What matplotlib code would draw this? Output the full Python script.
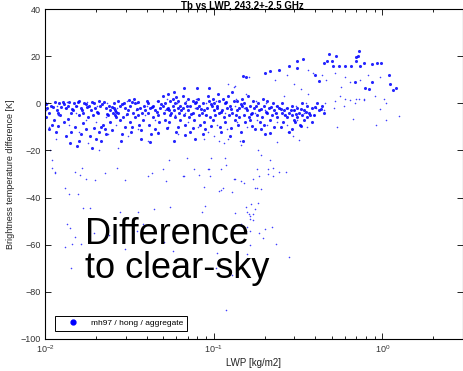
import matplotlib
matplotlib.use("Agg")
import matplotlib.pyplot as plt
from matplotlib.lines import Line2D

plt.rcParams.update({
    "font.family": ["Liberation Sans", "DejaVu Sans"],
    "mathtext.default": "regular",
    "axes.linewidth": 0.8,
})

# band points drawn with the larger marker: lwp [kg/m2], dTb [K]
big_lwp = [
    0.0100, 0.0103, 0.0101, 0.0108, 0.0106, 0.0110,
    0.0114, 0.0117, 0.0113, 0.0116, 0.0121, 0.0125, 0.0123,
    0.0129, 0.0133, 0.0130, 0.0134, 0.0139, 0.0142, 0.0137, 0.0141,
    0.0148, 0.0152, 0.0146, 0.0151, 0.0154,
    0.0159, 0.0163, 0.0158, 0.0164, 0.0160,
    0.0170, 0.0174, 0.0168, 0.0175,
    0.0182, 0.0187, 0.0180, 0.0186, 0.0189,
    0.0195, 0.0199, 0.0193, 0.0200,
    0.0208, 0.0213, 0.0206, 0.0215, 0.0210,
    0.0223, 0.0229, 0.0221, 0.0227, 0.0231,
    0.0238, 0.0244, 0.0236, 0.0242,
    0.0255, 0.0258, 0.0261, 0.0253, 0.0259, 0.0262,
    0.0272, 0.0279, 0.0270, 0.0277, 0.0281,
    0.0292, 0.0299, 0.0290, 0.0297,
    0.0313, 0.0320, 0.0311, 0.0318, 0.0323,
    0.0335, 0.0342, 0.0333, 0.0340,
    0.0358, 0.0366, 0.0355, 0.0363, 0.0369,
    0.0384, 0.0391, 0.0381,
    0.0410, 0.0419, 0.0407, 0.0416, 0.0422,
    0.0439, 0.0448, 0.0436, 0.0446,
    0.0470, 0.0480, 0.0466, 0.0477,
    0.0502, 0.0512, 0.0498, 0.0510, 0.0515,
    0.0538, 0.0548, 0.0534, 0.0545, 0.0551, 0.0540,
    0.0576, 0.0587, 0.0571, 0.0583, 0.0590, 0.0579,
    0.0615, 0.0628, 0.0611, 0.0624, 0.0631, 0.0618,
    0.0659, 0.0672, 0.0654, 0.0668, 0.0676,
    0.0705, 0.0719, 0.0700, 0.0715, 0.0724,
    0.0755, 0.0770, 0.0749, 0.0765, 0.0774,
    0.0807, 0.0823, 0.0801, 0.0818, 0.0829,
    0.0864, 0.0881, 0.0857, 0.0875, 0.0887,
    0.0924, 0.0942, 0.0917, 0.0948,
    0.0990, 0.101, 0.0982, 0.100, 0.102, 0.0995,
    0.106, 0.108, 0.105, 0.107, 0.109,
    0.113, 0.116, 0.112, 0.115, 0.117,
    0.121, 0.124, 0.120, 0.123, 0.125,
    0.129, 0.132, 0.128, 0.133,
    0.138, 0.141, 0.137, 0.142, 0.139,
    0.148, 0.152, 0.147, 0.151, 0.153, 0.149,
    0.159, 0.163, 0.158, 0.162, 0.164,
    0.170, 0.174, 0.168, 0.175,
    0.182, 0.186, 0.180, 0.187,
    0.195, 0.199, 0.193, 0.198, 0.201,
    0.208, 0.213, 0.206, 0.215,
    0.223, 0.229, 0.221, 0.227,
    0.238, 0.244, 0.236,
    0.255, 0.261, 0.253, 0.259,
    0.272, 0.279, 0.270, 0.281,
    0.292, 0.299, 0.290, 0.297, 0.302,
    0.313, 0.320, 0.311, 0.323,
    0.335, 0.342, 0.333, 0.345,
    0.358, 0.366, 0.355,
    0.384, 0.391, 0.381,
    0.410, 0.419, 0.439, 0.448,
    # in between
    0.0102, 0.0112, 0.0119, 0.0127, 0.0136, 0.0144, 0.0156, 0.0166,
    0.0178, 0.0191, 0.0203, 0.0218, 0.0233, 0.0249, 0.0265, 0.0285,
    0.0305, 0.0328, 0.0350, 0.0374, 0.0400, 0.0428, 0.0458, 0.0490,
    0.0525, 0.0560, 0.0600, 0.0640, 0.0690, 0.0738, 0.0790, 0.0845,
    0.0903, 0.0965, 0.104, 0.111, 0.118, 0.127, 0.135, 0.145,
    0.156, 0.166, 0.178, 0.190, 0.204, 0.218, 0.233, 0.249,
    0.266, 0.286, 0.306, 0.328, 0.350, 0.374, 0.400, 0.430,
    0.0105, 0.0120, 0.0143, 0.0169, 0.0195, 0.0216, 0.0248, 0.0287,
    0.0330, 0.0372, 0.0420, 0.0470, 0.0530, 0.0595, 0.0680, 0.0750,
    0.0860, 0.0960, 0.110, 0.126, 0.145, 0.168, 0.190, 0.215,
    0.250, 0.290, 0.330,
]
big_dtb = [
    0, -2, -6, -1, -4, -9,
    0.5, -3, -7, -12, 0, -1.5, -5,
    -0.5, -2, -8, -14, 0.5, -4, -6.5, -17,
    0, -1, -3, -10, -18,
    1, -2, -5, -13, -16,
    0, -0.5, -4, -11,
    -1, -3, -6, -14, -19,
    0, -2, -5, -15,
    1, -1, -4, -10, -12,
    0.5, -2, -9, -11, -13,
    -1, -3, -5, -8,
    0, -2, -3, -4, -5, -6,
    1, -1, -4, -7, -16,
    0, -2, -6, -10,
    1.5, -1, -3, -8, -12,
    2, 0, -4, -6,
    0.5, -2, -5, -9, -15,
    -1, -3, -7,
    0, -2, -4, -9, -13,
    -1, -3, -6, -11,
    1, -2, -5, -8,
    3, 0, -1, -4, -7,
    4, 1, -2, -3, -5, -8,
    2, 0, -1, -3, -6, -16,
    1, -1, -2, -4, -7, -10,
    3, 0, -2, -5, -9,
    2, -1, -3, -6, -12,
    1, 0, -4, -7, -15,
    2, -1, -2, -5, -9,
    0, -3, -4, -8, -11,
    3, 1, -2, -6,
    2, 0, -1, -3, -5, -7,
    4, 1, -2, -4, -10,
    2, 0, -3, -6, -8,
    3, -1, -2, -5, -14,
    5, 1, -4, -7,
    1, -2, -3, -6, -9,
    2, 0, -1, -5, -8, -16,
    3, -1, -3, -6, -7,
    1, -2, -4, -11,
    0, -3, -5, -8,
    2, -1, -6, -9, -13,
    1, -2, -4, -7,
    0, -3, -5, -10,
    -1, -2, -6,
    0, -3, -4, -8,
    -2, -4, -6, -12,
    -1, -3, -5, -7, -8,
    -2, -4, -6, -9,
    0, -3, -5, -7,
    -1, -4, -6,
    -2, -5, -8,
    0, -3, -1, -4,
    # in between
    -0.5, -1.5, -4, 0.5, -1, -2.5, 0.5, -3,
    -1.5, 0.5, -3.5, -0.5, -4.5, -1.5, -3.5, -0.5,
    -4.5, 0.5, -2.5, -4, 1, -1.5, -3.5, -0.5,
    -2.5, -4, 2.5, -3, -1, -4.5, 0.5, -2.5,
    -5, -0.5, -1, -3.5, 0.5, -2.5, -5, -0.5,
    -2, -4.5, -1, -2.5, -3.5, -1.5, -4, -2.5,
    -5, -3, -4.5, -2.5, -3.5, -5, -1.5, -2.5,
    -11, -9.5, -12, -8.5, -10.5, -16, -11.5, -13,
    -10, -11.5, -16.5, -12.5, -10.5, -12, -13.5, -10.5,
    -13, -9.5, -12, -10.5, -12, -9.5, -11, -12.5,
    -10, -11, -9.5,
]

# warm branch at high LWP (larger marker)
warm_lwp = [0.150, 0.155, 0.200, 0.216, 0.245, 0.280, 0.310, 0.310, 0.340,
            0.400, 0.420, 0.450, 0.470, 0.480, 0.500, 0.510, 0.530, 0.550,
            0.600, 0.650, 0.690, 0.700, 0.700, 0.720, 0.730, 0.740, 0.780,
            0.790, 0.830, 0.870, 0.870, 0.930, 0.980, 1.10, 1.11, 1.15, 1.20,
            0.0582, 0.0666, 0.0800, 0.0940]
warm_dtb = [11.5, 11, 12.8, 13.7, 14, 16, 15, 18, 19,
            12, 9.5, 17, 18, 21, 18, 16, 20, 16,
            16, 16, 9, 19.5, 18, 20, 22, 16, 17,
            6.5, 6, 16.6, 9, 17, 17, 12, 8, 5.5, 6.5,
            5, 6.5, 6.5, 6.5]

# points drawn with the small marker
small_lwp = [
    0.0104, 0.0101, 0.0106, 0.0118, 0.0120, 0.0116, 0.0135, 0.0132, 0.0138,
    0.0155, 0.0152, 0.0158, 0.0178, 0.0175, 0.0181, 0.0204, 0.0200, 0.0208,
    0.0233, 0.0229, 0.0237, 0.0267, 0.0262, 0.0272, 0.0306, 0.0300, 0.0312,
    0.0350, 0.0344, 0.0356, 0.0401, 0.0394, 0.0408, 0.0459, 0.0451, 0.0467,
    0.0526, 0.0517, 0.0535, 0.0602, 0.0592, 0.0612, 0.0689, 0.0677, 0.0701,
    0.0789, 0.0775, 0.0803, 0.0903, 0.0887, 0.0919, 0.103, 0.101, 0.105,
    0.118, 0.116, 0.120, 0.136, 0.134, 0.138, 0.155, 0.152, 0.158,
    0.178, 0.175, 0.181, 0.204, 0.200, 0.208, 0.234, 0.230, 0.238,
    0.267, 0.262, 0.272, 0.306, 0.300, 0.312, 0.350, 0.344, 0.356,
    0.401, 0.394, 0.459, 0.451, 0.526, 0.517, 0.602, 0.592, 0.700, 0.688,
    0.780,
    # tail below the band
    0.0107, 0.0110, 0.0115, 0.0110, 0.0115, 0.0150, 0.0161, 0.0165, 0.0176,
    0.0197, 0.0226, 0.0267, 0.0296, 0.0410, 0.0430, 0.0500, 0.0520, 0.0655,
    0.0816, 0.0930, 0.0950, 0.0873, 0.107, 0.119, 0.133, 0.146, 0.151,
    0.175, 0.180, 0.190, 0.180, 0.211, 0.211, 0.226, 0.186, 0.170, 0.110,
    0.113, 0.128, 0.0544, 0.0690, 0.0763, 0.0666, 0.0934, 0.110, 0.131,
    0.117, 0.0967, 0.0873, 0.100, 0.107, 0.115, 0.122, 0.143, 0.146,
    0.184, 0.191, 0.216, 0.224, 0.236, 0.276, 0.296, 0.318, 0.245, 0.268,
    # far tail
    0.0131, 0.0138, 0.0135, 0.0140, 0.0131, 0.0143, 0.0157, 0.0169, 0.0184,
    0.0150, 0.0145, 0.0164, 0.0194, 0.0280, 0.0355, 0.0440, 0.0552, 0.0241,
    0.0296, 0.0383, 0.0353, 0.0570, 0.0510, 0.0882, 0.0850, 0.104, 0.103,
    0.155, 0.167, 0.184, 0.175, 0.157, 0.161, 0.172, 0.163, 0.165, 0.170,
    0.133, 0.146, 0.157, 0.155, 0.165, 0.202, 0.186, 0.197, 0.222, 0.131,
    0.234, 0.163, 0.157, 0.280, 0.128, 0.119,
    # around the warm branch
    0.122, 0.131, 0.133, 0.161, 0.230, 0.270, 0.360, 0.390, 0.440, 0.460,
    0.520, 0.600, 0.640, 0.570, 0.740, 0.820, 0.970, 1.05, 0.970, 1.05,
    1.25, 0.920, 0.670, 0.540, 0.560, 0.730, 0.780, 0.640, 0.360, 0.330,
    0.300, 1.02, 0.900, 0.260,
]
small_dtb = [
    0, -3, -10, -1, -5, -15, 0.5, -2, -9,
    -1, -4, -12, 0.5, -7, -17, -1, -8, -20,
    0, -6, -13, -2, -9, -19, 1, -5, -14,
    0, -3, -11, -1, -5, -16, 1, -7, -12,
    2, -3, -10, 0, -5, -13, 1, -4, -8,
    2, -2, -10, 0, -5, -12, 1, -3, -9,
    0, -4, -11, 2, -1, -8, 4, -2, -10,
    1, -4, -7, 0, -3, -9, -1, -4, -8,
    -2, -5, -9, -1, -3, -7, 0, -4, -10,
    -2, -5, 0, -3, 1, -2, 2, -1, 2, 0,
    1.5,
    -20, -24, -29.5, -27.5, -29, -29, -30.5, -27.5, -32,
    -32.6, -29.6, -27.4, -32.6, -31, -29.6, -28, -33, -31,
    -30.4, -28, -31, -35.5, -37, -26, -32, -33, -34,
    -36, -36, -36.4, -28, -28, -30, -31, -31, -32, -36.8,
    -36, -37.7, -24, -23, -28, -31, -28, -28, -32,
    -23, -23, -15, -14, -16, -17, -15, -16, -17.7,
    -20, -22, -24, -27.5, -16.6, -12, -14, -15.6, -29, -29,
    -36, -38.5, -51, -53, -61, -70, -38.5, -44.5, -44.5,
    -56.7, -59.7, -59.7, -55, -46, -46, -45, -44, -56,
    -62, -51, -54, -62.7, -59, -43.6, -46, -63.5, -70,
    -44, -42.7, -42.3, -45, -46, -47, -47, -48, -49, -49.5,
    -46.5, -51, -52.5, -54, -54, -53.5, -55, -57, -52.5, -53,
    -59.7, -60, -64, -65, -73, -87.7,
    8, 7, 7.5, 11, 10, 12, 14, 13, 12, 10,
    13, 11, 9, 7, 10, 12, 11, 0, -2.5, -7,
    -5.4, -9, -6.7, -10, 3, 2, 2, 1.5, 4, 6,
    8, 2, 3, 3,
]

label = "mh97 / hong / aggregate"
blue = "#0000ff"

fig = plt.figure(figsize=(4.63, 3.71), dpi=100)
ax = fig.add_axes([45 / 463, 32 / 371, 418 / 463, 330 / 371])

ax.scatter(small_lwp, small_dtb, s=1.3, color=blue, alpha=0.75, linewidths=0)
ax.scatter(big_lwp, big_dtb, s=5, color=blue, alpha=0.85, linewidths=0)
ax.scatter(warm_lwp, warm_dtb, s=5, color=blue, alpha=0.85, linewidths=0)

ax.set_xscale("log")
ax.set_xlim(0.01, 3)
ax.set_ylim(-100, 40)
ax.set_yticks(range(-100, 41, 20))
ax.tick_params(which="both", direction="in", top=True, right=True,
               labelsize=6.5, labelcolor="#333333", pad=3)
ax.tick_params(which="major", length=4, width=0.6)
ax.tick_params(which="minor", length=2.5, width=0.6)

ax.set_xlabel("LWP [kg/m2]", fontsize=7, labelpad=2, color="#222222")
ax.set_ylabel("Brightness temperature difference [K]", fontsize=6.5,
              labelpad=4, color="#222222")
fig.text(242 / 463, 1 - 5 / 371, "Tb vs LWP, 243.2+-2.5 GHz", ha="center",
         va="center", fontsize=7, fontweight="bold")

handle = Line2D([], [], linestyle="none", marker="o", markersize=3.5,
                color=blue)
leg = ax.legend([handle], [label], loc="lower left",
                bbox_to_anchor=(0.024, 0.024), borderaxespad=0,
                fontsize=6, fancybox=False, edgecolor="black",
                framealpha=1, handlelength=3.4, handletextpad=0.5,
                borderpad=0.45)
leg.get_frame().set_linewidth(0.7)

ax.text(85 / 463, 1 - 217 / 371, "Difference\nto clear-sky",
        transform=fig.transFigure, fontsize=26, ha="left", va="top",
        linespacing=0.95)

fig.savefig("out.png", dpi=100)
